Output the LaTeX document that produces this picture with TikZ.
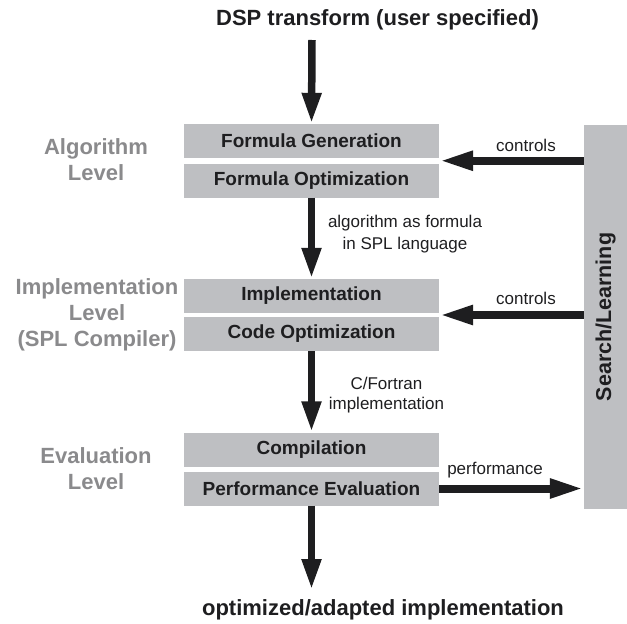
\documentclass[tikz,border=0pt]{standalone}
\usepackage{fontspec}
\setmainfont{Liberation Sans}
\usetikzlibrary{arrows.meta,calc}

\definecolor{boxgray}{RGB}{190,191,194}
\definecolor{levelgray}{RGB}{138,138,140}
\definecolor{ink}{RGB}{30,30,32}

\tikzset{
  stagebox/.style={draw=none, fill=boxgray, minimum width=255pt, minimum height=34pt,
    inner sep=0pt, text=ink, font=\bfseries\fontsize{19}{22}\selectfont},
  sidebox/.style={draw=none, fill=boxgray, minimum width=43pt, minimum height=384pt, inner sep=0pt},
  leveltext/.style={align=center, text=levelgray, font=\bfseries\fontsize{22}{26}\selectfont},
  headtext/.style={text=ink, font=\bfseries\fontsize{22}{26}\selectfont},
  edgetext/.style={align=center, text=ink, font=\fontsize{17}{22}\selectfont},
  flowarrow/.style={draw=ink, line width=7.5pt, -{Triangle[length=31pt,width=18pt]}},
  sidearrow/.style={draw=ink, line width=8pt, -{Triangle[length=34pt,width=18pt]}}
}

\begin{document}
\begin{tikzpicture}[x=1pt,y=-1pt]
  \useasboundingbox (0,0) rectangle (627,624);

  % input and output
  \node[headtext] (input) at (377.5,20) {DSP transform (user specified)};
  \node[headtext] (output) at (383,610) {optimized/adapted implementation};

  % stage boxes
  \node[stagebox] (fgen) at (311.5,141)   {Formula Generation};
  \node[stagebox] (fopt) at (311.5,180.5) {Formula Optimization};
  \node[stagebox] (impl) at (311.5,296)   {Implementation};
  \node[stagebox] (copt) at (311.5,334)   {Code Optimization};
  \node[stagebox] (comp) at (311.5,449.5) {Compilation};
  \node[stagebox] (peval) at (311.5,488.5) {Performance Evaluation};

  % search/learning column
  \node[sidebox] (search) at (605.5,317) {};
  \node[rotate=90, text=ink, font=\bfseries\fontsize{21.5}{24}\selectfont] (searchlabel) at (search.center) {Search/Learning};

  % level labels
  \node[leveltext] (alglevel)  at (96,160) {Algorithm\\Level};
  \node[leveltext] (impllevel) at (97,315) {Implementation\\Level\\(SPL Compiler)};
  \node[leveltext] (evallevel) at (96,469) {Evaluation\\Level};

  % main flow
  \coordinate (instart) at (312,40);
  \coordinate (outend) at (311.5,590);
  \draw[flowarrow] (instart) -- (fgen.north);
  \draw[flowarrow] (fopt.south) -- (impl.north);
  \draw[flowarrow] (copt.south) -- (comp.north);
  \draw[flowarrow] (peval.south) -- (outend);

  \node[edgetext] (spl) at (405,234) {algorithm as formula\\in SPL language};
  \node[edgetext, font=\fontsize{17}{20}\selectfont] (cf) at (386.5,395) {C/Fortran\\implementation};

  % feedback loop
  \coordinate (algin)  at ($(fgen.south east)!0.5!(fopt.north east)$);
  \coordinate (implin) at ($(impl.south east)!0.5!(copt.north east)$);
  \draw[sidearrow] (search.west |- algin) -- (algin);
  \draw[sidearrow] (search.west |- implin) -- (implin);
  \draw[sidearrow] (peval.east) -- (search.west |- peval.east);

  \node[edgetext] (ctl1) at (526,145) {controls};
  \node[edgetext] (ctl2) at (526,298) {controls};
  \node[edgetext] (perf) at (495,470) {performance};
\end{tikzpicture}
\end{document}
